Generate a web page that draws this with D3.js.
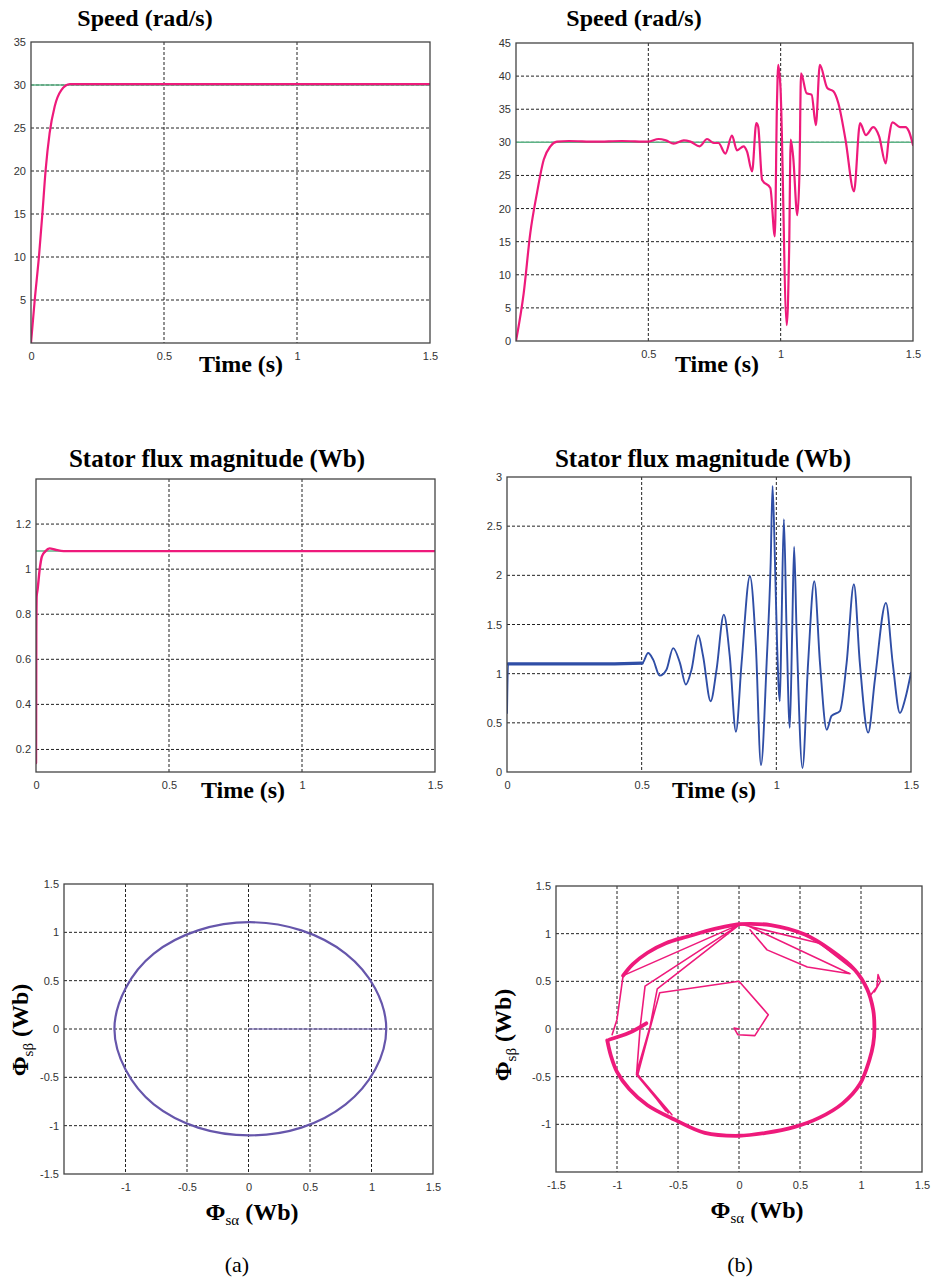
<!DOCTYPE html>
<html>
<head>
<meta charset="utf-8">
<script src="https://cdn.jsdelivr.net/npm/d3@7"></script>
<style>
  body { margin: 0; background: #fff; }
  svg { display: block; }
</style>
</head>
<body>
<div id="fig"></div>
<script>
// ---- data ----
// speed (rad/s), case (a): [time s, speed]
var speedA = [[0,0],[0.014,5.0],[0.030,10.1],[0.043,15.1],[0.055,20.1],[0.070,24.4],[0.089,27.5],
  [0.114,29.4],[0.146,30.1],[0.2,30.1],[0.4,30.1],[0.6,30.1],[0.8,30.1],[1.0,30.1],[1.2,30.1],[1.5,30.1]];
var speedRef = 30;

// speed (rad/s), case (b)
var speedB = [[0,0],[0.029,7.2],[0.054,16.3],[0.079,22.3],[0.105,27.4],[0.13,29.4],[0.155,30.1],[0.2,30.2],
  [0.3,30.1],[0.4,30.2],[0.5,30.1],[0.539,30.5],[0.566,30.3],[0.596,29.8],[0.634,30.3],[0.659,30.1],
  [0.694,29.4],[0.722,30.5],[0.747,29.9],[0.765,29.9],[0.791,28.3],[0.816,31.0],[0.835,28.8],[0.86,29.4],
  [0.873,28.6],[0.892,25.6],[0.908,32.9],[0.915,32.4],[0.93,24.3],[0.961,23.1],[0.978,15.8],[0.986,35.9],
  [0.991,41.7],[0.999,38.5],[1.023,2.4],[1.032,13.8],[1.038,30.4],[1.047,27.9],[1.063,19.0],[1.071,25.4],
  [1.077,40.4],[1.098,37.4],[1.117,37.2],[1.133,32.6],[1.148,41.7],[1.176,38.2],[1.199,37.7],[1.218,35.9],
  [1.245,30.4],[1.277,22.6],[1.3,32.9],[1.322,31.1],[1.35,32.3],[1.372,30.9],[1.397,26.8],[1.408,30.4],
  [1.423,33.0],[1.451,32.3],[1.472,32.3],[1.484,31.7],[1.5,29.6]];

// stator flux magnitude (Wb), case (a)
var fluxA = [[0,0.14],[0.001,0.70],[0.0025,0.88],[0.006,0.91],[0.014,1.0],[0.022,1.056],[0.035,1.079],
  [0.051,1.092],[0.073,1.086],[0.104,1.08],[0.3,1.08],[1.5,1.08]];
var fluxRef = 1.08;

// stator flux magnitude (Wb), case (b)
var fluxB = [[0,0.6],[0.004,1.1],[0.1,1.1],[0.2,1.1],[0.3,1.1],[0.4,1.1],[0.502,1.108],[0.524,1.21],
  [0.543,1.14],[0.567,0.98],[0.592,1.04],[0.617,1.26],[0.642,1.11],[0.664,0.89],[0.685,1.04],[0.71,1.39],
  [0.728,1.18],[0.756,0.72],[0.778,1.04],[0.805,1.60],[0.827,1.18],[0.85,0.41],[0.871,1.11],[0.902,1.99],
  [0.924,1.28],[0.943,0.07],[0.964,1.11],[0.979,2.13],[0.986,2.91],[0.995,2.13],[1.003,1.28],[1.013,0.72],
  [1.019,1.45],[1.028,2.57],[1.038,1.45],[1.05,0.45],[1.059,1.45],[1.066,2.29],[1.075,1.45],[1.097,0.04],
  [1.118,1.11],[1.141,1.94],[1.162,1.11],[1.187,0.43],[1.205,0.57],[1.236,0.62],[1.261,1.11],[1.288,1.91],
  [1.31,1.11],[1.341,0.40],[1.366,0.94],[1.407,1.72],[1.432,1.11],[1.459,0.60],[1.478,0.74],[1.5,1.01]];

// flux trajectory (a): [phi_alpha, phi_beta]
var circleA = [[0.01,1.105],[0.43,1.02],[0.79,0.78],[1.03,0.42],[1.12,0],[1.03,-0.42],[0.79,-0.78],
  [0.43,-1.02],[0.01,-1.10],[-0.41,-1.02],[-0.77,-0.78],[-1.0,-0.42],[-1.09,0],[-1.0,0.42],
  [-0.77,0.78],[-0.41,1.02]];
var radialA = [[0,0],[1.12,0]];

// flux trajectory (b): thick steady ring, thin transient branches (null = break)
var ringB = [[0,1.10],[0.26,1.09],[0.54,0.99],[0.75,0.83],[0.95,0.62],[1.05,0.42],[1.1,0.2],[1.11,0],
  [1.1,-0.16],[1.07,-0.32],[0.99,-0.58],[0.85,-0.78],[0.66,-0.93],[0.45,-1.03],[0.22,-1.09],[0,-1.12],
  [-0.28,-1.09],[-0.53,-0.95],[-0.75,-0.8],[-0.9,-0.63],[-1.0,-0.45],[-1.05,-0.28],[-1.08,-0.12],null,
  [-1.06,-0.11],[-0.9,-0.04],[-0.76,0.06],null,
  [-0.95,0.56],[-0.87,0.68],[-0.75,0.8],[-0.6,0.9],[-0.42,0.97],[-0.2,1.05],[0,1.10]];
var branchB = [[0,0],[-0.04,0.01],[-0.01,-0.06],[0.13,-0.07],[0.24,0.15],[0,0.50],[-0.65,0.38],[-0.72,0.05],
  [-0.83,-0.48],[-0.55,-0.90],null,
  [0.01,1.10],[-0.95,0.56],[-1.0,0.1],[-1.04,-0.06],null,
  [0.01,1.10],[-0.77,0.45],[-0.81,0.02],[-0.84,-0.48],[-0.58,-0.88],null,
  [0.01,1.10],[-0.67,0.42],[-0.73,0.02],[-0.84,-0.46],[-0.6,-0.86],null,
  [0.06,1.09],[0.91,0.58],null,[0.09,1.04],[0.23,0.83],[0.56,0.65],[0.91,0.58],null,
  [0.04,1.09],[0.66,0.90],[0.94,0.62],null,
  [1.07,0.34],[1.13,0.44],[1.14,0.57],[1.16,0.50],[1.11,0.39]];

var timeTicks = [0, 0.5, 1, 1.5];
var fluxBTicks = [0, 0.5, 1, 1.5, 2, 2.5, 3];
var fluxATicks = [0.2, 0.4, 0.6, 0.8, 1, 1.2];
var speedATicks = [5, 10, 15, 20, 25, 30, 35];
var speedBTicks = [0, 5, 10, 15, 20, 25, 30, 35, 40, 45];
var phiTicks = [-1.5, -1, -0.5, 0, 0.5, 1, 1.5];

// ---- colours ----
var pink = "#ee1a7b", green = "#5db386", blue = "#2f4ea6", purple = "#6656ab";

var svg = d3.select("#fig").append("svg").attr("width", 933).attr("height", 1280);

var clipId = 0;
function panel(box, xDom, yDom, grid, xLab, yLab) {
  var x = d3.scaleLinear().domain(xDom).range([box.l, box.r]);
  var y = d3.scaleLinear().domain(yDom).range([box.b, box.t]);
  var g = svg.append("g");
  // grid
  g.selectAll(".gx").data(grid.x.filter(function(v){ return v > xDom[0] && v < xDom[1]; }))
    .enter().append("line")
    .attr("x1", function(d){ return x(d); }).attr("x2", function(d){ return x(d); })
    .attr("y1", box.t).attr("y2", box.b)
    .attr("stroke", "#222").attr("stroke-width", 1).attr("stroke-dasharray", "3,2");
  g.selectAll(".gy").data(grid.y.filter(function(v){ return v > yDom[0] && v < yDom[1]; }))
    .enter().append("line")
    .attr("y1", function(d){ return y(d); }).attr("y2", function(d){ return y(d); })
    .attr("x1", box.l).attr("x2", box.r)
    .attr("stroke", "#222").attr("stroke-width", 1).attr("stroke-dasharray", "3,2");
  // tick labels
  var ax = g.append("g").attr("transform", "translate(0," + box.b + ")")
    .call(d3.axisBottom(x).tickValues(xLab).tickSize(0).tickPadding(9).tickFormat(function(d){ return String(d); }));
  var ay = g.append("g").attr("transform", "translate(" + box.l + ",0)")
    .call(d3.axisLeft(y).tickValues(yLab).tickSize(0).tickPadding(5).tickFormat(function(d){ return String(d); }));
  [ax, ay].forEach(function(a){
    a.select(".domain").remove();
    a.selectAll("text").attr("font-family", "Liberation Sans, Arial, sans-serif")
      .attr("font-size", 11).attr("fill", "#333");
  });
  clipId++;
  svg.append("clipPath").attr("id", "clip" + clipId).append("rect")
    .attr("x", box.l).attr("y", box.t).attr("width", box.r - box.l).attr("height", box.b - box.t);
  var plot = svg.append("g").attr("clip-path", "url(#clip" + clipId + ")");
  svg.append("rect").attr("x", box.l).attr("y", box.t)
    .attr("width", box.r - box.l).attr("height", box.b - box.t)
    .attr("fill", "none").attr("stroke", "#444").attr("stroke-width", 1.3);
  return { x: x, y: y, plot: plot };
}

function drawLine(p, data, color, width, curve) {
  var line = d3.line()
    .defined(function(d){ return d !== null; })
    .x(function(d){ return p.x(d[0]); })
    .y(function(d){ return p.y(d[1]); })
    .curve(curve || d3.curveLinear);
  p.plot.append("path").datum(data).attr("d", line)
    .attr("fill", "none").attr("stroke", color).attr("stroke-width", width)
    .attr("stroke-linejoin", "round").attr("stroke-linecap", "round");
}

function hRef(p, v, color) {
  var d = p.x.domain();
  drawLine(p, [[d[0], v], [d[1], v]], color, 1.5);
}

function text(x, y, str, size, weight, anchor) {
  return svg.append("text").attr("x", x).attr("y", y).text(str)
    .attr("font-family", "Liberation Serif, Times New Roman, serif")
    .attr("font-size", size).attr("font-weight", weight || "bold")
    .attr("text-anchor", anchor || "middle").attr("fill", "#000");
}

// ---- speed (a) ----
var p1 = panel({l: 31, r: 430, t: 42, b: 343}, [0, 1.5], [0, 35],
  {x: timeTicks, y: speedATicks}, timeTicks, speedATicks);
hRef(p1, speedRef, green);
drawLine(p1, speedA, pink, 2.2, d3.curveMonotoneX);
text(145, 26, "Speed (rad/s)", 24);
text(241, 372, "Time (s)", 24);

// ---- speed (b) ----
var p2 = panel({l: 516, r: 913, t: 43, b: 341}, [0, 1.5], [0, 45],
  {x: timeTicks, y: speedBTicks}, [0.5, 1, 1.5], speedBTicks);
hRef(p2, speedRef, green);
drawLine(p2, speedB, pink, 2.2, d3.curveMonotoneX);
text(634, 26, "Speed (rad/s)", 24);
text(717, 372, "Time (s)", 24);

// ---- flux magnitude (a) ----
var p3 = panel({l: 36, r: 435, t: 479, b: 772}, [0, 1.5], [0.1, 1.4],
  {x: timeTicks, y: fluxATicks}, timeTicks, fluxATicks);
hRef(p3, fluxRef, green);
drawLine(p3, fluxA, pink, 2.4, d3.curveMonotoneX);
text(217, 467, "Stator flux magnitude (Wb)", 25);
text(243, 798, "Time (s)", 24);

// ---- flux magnitude (b) ----
var p4 = panel({l: 507, r: 911, t: 477, b: 772}, [0, 1.5], [0, 3],
  {x: timeTicks, y: fluxBTicks}, timeTicks, fluxBTicks);
drawLine(p4, fluxB, blue, 1.9, d3.curveMonotoneX);
drawLine(p4, fluxB.filter(function(d){ return d[0] >= 0.004 && d[0] <= 0.502; }), blue, 3.2);
text(703, 467, "Stator flux magnitude (Wb)", 25);
text(714, 798, "Time (s)", 24);

// ---- flux trajectories ----
function phiLabel(x, y, sub, rotate) {
  var t = svg.append("text")
    .attr("transform", "translate(" + x + "," + y + ")" + (rotate ? " rotate(-90)" : ""))
    .attr("font-family", "Liberation Serif, Times New Roman, serif")
    .attr("font-weight", "bold").attr("font-size", 24).attr("text-anchor", "middle");
  t.append("tspan").text("\u03A6");
  t.append("tspan").text(sub).attr("font-size", 15).attr("font-weight", "normal").attr("dy", 5);
  t.append("tspan").text(" (Wb)").attr("dy", -5);
}

var p5 = panel({l: 64, r: 433, t: 884, b: 1174}, [-1.5, 1.5], [-1.5, 1.5],
  {x: phiTicks, y: phiTicks}, phiTicks.slice(1), phiTicks);
drawLine(p5, radialA, purple, 1.2);
drawLine(p5, circleA, purple, 2.2, d3.curveCardinalClosed);
phiLabel(28, 1030, "s\u03B2", true);
phiLabel(252, 1220, "s\u03B1", false);
text(237, 1272, "(a)", 22, "normal");

var p6 = panel({l: 556, r: 922, t: 886, b: 1172}, [-1.5, 1.5], [-1.5, 1.5],
  {x: phiTicks, y: phiTicks}, phiTicks, phiTicks.slice(1));
drawLine(p6, branchB, pink, 1.6);
drawLine(p6, ringB, pink, 3.8, d3.curveCatmullRom);
phiLabel(511, 1035, "s\u03B2", true);
phiLabel(757, 1218, "s\u03B1", false);
text(740, 1272, "(b)", 22, "normal");
</script>
</body>
</html>
